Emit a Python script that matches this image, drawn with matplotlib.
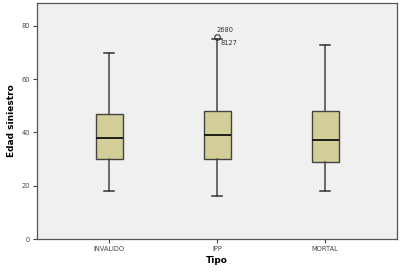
import matplotlib
matplotlib.use("Agg")
import matplotlib.pyplot as plt

tipos = ["INVALIDO", "IPP", "MORTAL"]
wlo = [18, 16, 18]
q1 = [30, 30, 29]
med = [38, 39, 37]
q3 = [47, 48, 48]
whi = [70, 75, 73]
fliers = [[], [76], []]
flier_ids = ["2680", "8127"]

stats = []
for i in range(len(tipos)):
    stats.append(dict(label=tipos[i], whislo=wlo[i], q1=q1[i], med=med[i],
                      q3=q3[i], whishi=whi[i], fliers=fliers[i]))

fig = plt.figure(figsize=(4.02, 2.72), dpi=100)
ax = fig.add_axes([37/402, 1 - 239/272, 360/402, 236/272])
ax.set_facecolor("#f0f0f0")

ax.bxp(stats, positions=[1, 2, 3], widths=0.25, patch_artist=True,
       boxprops=dict(facecolor="#d4cf98", edgecolor="#444444", linewidth=1.0),
       medianprops=dict(color="#111111", linewidth=1.3),
       whiskerprops=dict(color="#444444", linewidth=1.1),
       capprops=dict(color="#333333", linewidth=1.1),
       capwidths=0.1,
       flierprops=dict(marker="o", markerfacecolor="none", markeredgecolor="#333333",
                       markersize=4, markeredgewidth=0.8))

# outlier case labels
ax.text(2.0, 76 + 1.2, flier_ids[0], fontsize=4.8, color="#333333", va="bottom", ha="left")
ax.text(2.03, 76 - 1.2, flier_ids[1], fontsize=4.8, color="#333333", va="top", ha="left")

ax.set_xlim(1 - 72/108, 3 + 72/108)
ax.set_ylim(0, 88.6)
ax.set_yticks([0, 20, 40, 60, 80])
ax.set_xticks([1, 2, 3])
ax.set_xticklabels(tipos)
ax.tick_params(labelsize=4.8, colors="#444444", length=3, width=0.8, pad=2)
for s in ax.spines.values():
    s.set_color("#555555")
    s.set_linewidth(0.9)

ax.set_xlabel("Tipo", fontsize=6.5, fontweight="bold", labelpad=3)
ax.set_ylabel("Edad siniestro", fontsize=6.5, fontweight="bold", labelpad=4)

fig.savefig("out.png", dpi=100)
